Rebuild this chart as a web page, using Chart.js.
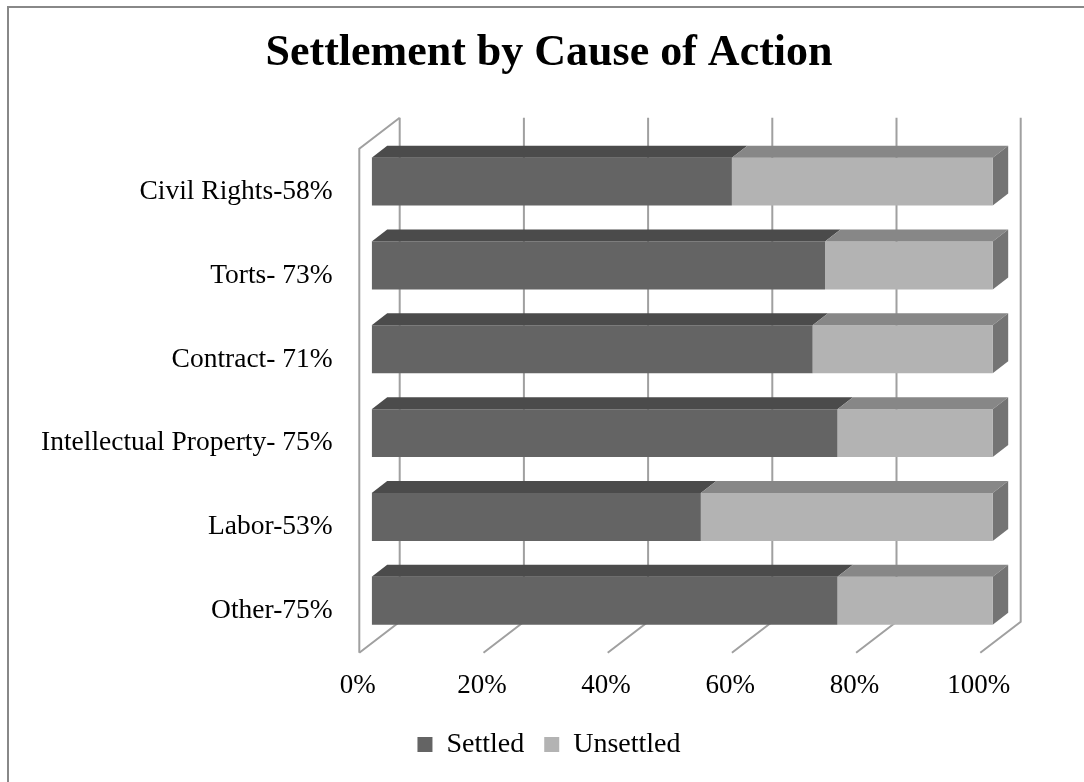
<!DOCTYPE html>
<html>
<head>
<meta charset="utf-8">
<title>Settlement by Cause of Action</title>
<script src="https://cdn.jsdelivr.net/npm/chart.js@4.4.1/dist/chart.umd.min.js"></script>
<style>
    html, body { margin: 0; padding: 0; background: #fff; }
    #wrap { position: relative; width: 1084px; height: 782px; overflow: hidden; }
    #frame { position: absolute; left: 6.5px; top: 5.5px; width: 1200px; height: 900px; border: 2.5px solid #888; }
    #chartBox { position: absolute; left: 0; top: 0; width: 1084px; height: 782px; }
</style>
</head>
<body>
<div id="wrap">
    <div id="frame"></div>
    <div id="chartBox"><canvas id="resultsChart"></canvas></div>
</div>
<script>
const categories = ['Civil Rights-58%', 'Torts- 73%', 'Contract- 71%', 'Intellectual Property- 75%', 'Labor-53%', 'Other-75%'];
const settled = [58, 73, 71, 75, 53, 75];
const unsettled = [42, 27, 29, 25, 47, 25];
const seriesNames = ['Settled', 'Unsettled'];
const xTicks = [0, 20, 40, 60, 80, 100];

const frontColors = ['#646464', '#b3b3b3'];
const topColors = ['#4b4b4b', '#878787'];
const sideColor = '#747474';
const gridColor = '#a0a0a0';

// 3d offsets, in pixels
const bar3d = { dx: 15.5, dy: 12 };
const box3d = { dx: 40.4, dy: 31, front: -12.4 };

const threeD = {
    id: 'threeD',
    beforeDatasetsDraw(chart) {
        const { ctx, chartArea: area, scales: { x } } = chart;
        const floorFront = area.bottom + 10;
        const floorBack = floorFront - box3d.dy;
        const wallTop = area.top - 22;
        ctx.save();
        ctx.strokeStyle = gridColor;
        ctx.lineWidth = 2;
        x.ticks.forEach(t => {
            const xf = x.getPixelForValue(t.value) + box3d.front;
            const xb = xf + box3d.dx;
            ctx.beginPath();
            ctx.moveTo(xb, wallTop);
            ctx.lineTo(xb, floorBack);
            ctx.lineTo(xf, floorFront);
            ctx.stroke();
        });
        // left side wall
        const x0 = x.getPixelForValue(0) + box3d.front;
        ctx.beginPath();
        ctx.moveTo(x0 + box3d.dx, wallTop);
        ctx.lineTo(x0, wallTop + box3d.dy);
        ctx.lineTo(x0, floorFront);
        ctx.stroke();
        ctx.restore();
    },
    afterDatasetsDraw(chart) {
        const ctx = chart.ctx;
        const last = chart.data.datasets.length - 1;
        ctx.save();
        chart.data.datasets.forEach((ds, i) => {
            chart.getDatasetMeta(i).data.forEach(bar => {
                const { x, y, base, height } = bar.getProps(['x', 'y', 'base', 'height'], true);
                const top = y - height / 2;
                const bottom = y + height / 2;
                // top face
                ctx.fillStyle = topColors[i];
                ctx.beginPath();
                ctx.moveTo(base, top);
                ctx.lineTo(x, top);
                ctx.lineTo(x + bar3d.dx, top - bar3d.dy);
                ctx.lineTo(base + bar3d.dx, top - bar3d.dy);
                ctx.closePath();
                ctx.fill();
                // end face
                if (i === last) {
                    ctx.fillStyle = sideColor;
                    ctx.beginPath();
                    ctx.moveTo(x, top);
                    ctx.lineTo(x + bar3d.dx, top - bar3d.dy);
                    ctx.lineTo(x + bar3d.dx, bottom - bar3d.dy);
                    ctx.lineTo(x, bottom);
                    ctx.closePath();
                    ctx.fill();
                }
            });
        });
        ctx.restore();
    }
};

const chart = new Chart(document.getElementById('resultsChart'), {
    type: 'bar',
    data: {
        labels: categories,
        datasets: [
            { label: seriesNames[0], data: settled, backgroundColor: frontColors[0], borderWidth: 0 },
            { label: seriesNames[1], data: unsettled, backgroundColor: frontColors[1], borderWidth: 0 }
        ]
    },
    options: {
        indexAxis: 'y',
        responsive: true,
        maintainAspectRatio: false,
        animation: false,
        barPercentage: 0.5714,
        categoryPercentage: 1,
        layout: { padding: { left: 14, right: 0, top: 0, bottom: 13.6 } },
        scales: {
            x: {
                stacked: true,
                min: 0,
                max: 100,
                border: { display: false },
                grid: { display: false, drawTicks: false },
                afterBuildTicks: s => { s.ticks = xTicks.map(v => ({ value: v })); },
                afterFit: s => { s.height = 67.7; },
                ticks: {
                    padding: 27,
                    labelOffset: -14,
                    color: '#000',
                    font: { family: 'Liberation Serif', size: 27 },
                    callback: v => v + '%'
                }
            },
            y: {
                stacked: true,
                border: { display: false },
                grid: { display: false, drawTicks: false },
                afterFit: s => { s.width = 357.7; },
                ticks: {
                    padding: 39,
                    labelOffset: 10,
                    color: '#000',
                    font: { family: 'Liberation Serif', size: 27.5 }
                }
            },
            yRight: {
                type: 'linear',
                position: 'right',
                display: true,
                border: { display: false },
                grid: { display: false, drawTicks: false },
                ticks: { display: false },
                afterFit: s => { s.width = 91.3; }
            }
        },
        plugins: {
            title: {
                display: true,
                text: 'Settlement by Cause of Action',
                color: '#000',
                font: { family: 'Liberation Serif', size: 44, weight: 'bold' },
                padding: { top: 27, bottom: 59.9 }
            },
            legend: {
                position: 'bottom',
                labels: {
                    boxWidth: 15,
                    boxHeight: 15,
                    padding: 20,
                    color: '#000',
                    font: { family: 'Liberation Serif', size: 28 }
                }
            },
            tooltip: { enabled: false }
        }
    },
    plugins: [threeD]
});
</script>
</body>
</html>
